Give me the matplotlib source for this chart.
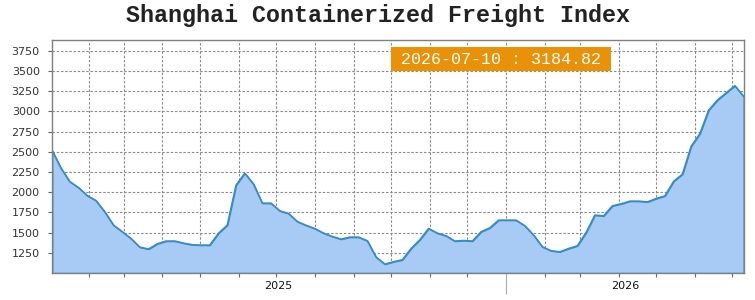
"""plot.py - weekly SCFI area chart with last-value badge."""

import matplotlib
matplotlib.use("Agg")  # no display
import matplotlib.pyplot as plt
import matplotlib.dates as mdates
import matplotlib.ticker as mticker
from matplotlib.patches import Rectangle

import pandas as pd

# --- data ------------------------------------------------------------------
title = "Shanghai Containerized Freight Index"
week_dates = pd.date_range("2025-01-03", periods=80, freq="7D")
scfi = [
    2514, 2297, 2131, 2057, 1958, 1896, 1757, 1592, 1510, 1427,
    1320, 1296, 1361, 1395, 1395, 1370, 1349, 1345, 1345, 1493,
    1592, 2087, 2235, 2100, 1864, 1864, 1769, 1736, 1637, 1590,
    1550, 1493, 1452, 1419, 1444, 1444, 1398, 1197, 1110, 1139,
    1163, 1303, 1411, 1550, 1493, 1460, 1395, 1402, 1395, 1510,
    1559, 1654, 1654, 1654, 1584, 1469, 1324, 1275, 1262, 1303,
    1336, 1501, 1716, 1707, 1831, 1856, 1889, 1889, 1880, 1921,
    1954, 2135, 2222, 2568, 2725, 3015, 3140, 3230, 3317, 3184.82,
]
y_ticks = [1250, 1500, 1750, 2000, 2250, 2500, 2750, 3000, 3250, 3500, 3750]
y_range = (1000, 3880)

# --- styling ---------------------------------------------------------------
LINE = "#3a8cc4"
FILL = "#a7cbf4"
GRID = "#8a8a8a"
FRAME = "#808080"
BADGE = "#e99107"

fig = plt.figure(figsize=(7.55, 3.0), dpi=100)
ax = fig.add_axes([0.0692, 0.09, 0.9158, 0.7757])

# area + outline
ax.fill_between(week_dates, scfi, y_range[0], facecolor=FILL,
                edgecolor=LINE, linewidth=1.0, zorder=2)
ax.plot(week_dates, scfi, color=LINE, linewidth=1.2, zorder=3)

ax.set_xlim(week_dates[0], week_dates[-1])
ax.set_ylim(*y_range)

# y axis
ax.yaxis.set_major_locator(mticker.FixedLocator(y_ticks))
ax.tick_params(axis="y", length=3, width=0.8, color="#666666", pad=6,
               labelsize=8, labelcolor="#333333")

# x axis: monthly minor ticks, year boundary as long separator tick
ax.xaxis.set_major_locator(mdates.YearLocator())
ax.xaxis.set_major_formatter(mticker.NullFormatter())
ax.xaxis.set_minor_locator(mdates.MonthLocator())
ax.tick_params(axis="x", which="minor", length=3, width=0.8, color="#666666")
ax.tick_params(axis="x", which="major", length=15, width=0.8, color="#aaaaaa")

# year labels centred on each year's visible span
first, last = week_dates[0], week_dates[-1]
for year in range(first.year, last.year + 1):
    lo = max(first, pd.Timestamp(f"{year}-01-01"))
    hi = min(last, pd.Timestamp(f"{year}-12-31"))
    mid = lo + (hi - lo) / 2
    ax.text(mid, -0.056, str(year), transform=ax.get_xaxis_transform(),
            ha="center", va="center", fontsize=8, color="#111111")

# grid
grid_kw = dict(color=GRID, linestyle=(0, (2.2, 1.6)), linewidth=0.8)
ax.grid(True, which="both", axis="x", **grid_kw)
ax.grid(True, which="major", axis="y", **grid_kw)
ax.set_axisbelow(True)

for side in ax.spines.values():
    side.set_color(FRAME)
    side.set_linewidth(1.0)
    side.set_zorder(5)

# title
fig.text(0.5, 0.948, title, ha="center", va="center",
         family=["Liberation Mono", "DejaVu Sans Mono"], fontweight="bold",
         fontsize=16.8, color="#222222")

# last value badge
badge_text = f"{last:%Y-%m-%d} : {scfi[-1]:.2f}"
fig.patches.append(Rectangle((391 / 755, 1 - 71 / 300), 220 / 755, 24 / 300,
                             transform=fig.transFigure, facecolor=BADGE,
                             edgecolor="none", zorder=6))
fig.text(501 / 755, 1 - 59.5 / 300, badge_text, ha="center", va="center",
         family=["Liberation Mono", "DejaVu Sans Mono"], fontsize=12,
         color="white", zorder=7)

fig.savefig("out.png", dpi=100)
plt.close(fig)
